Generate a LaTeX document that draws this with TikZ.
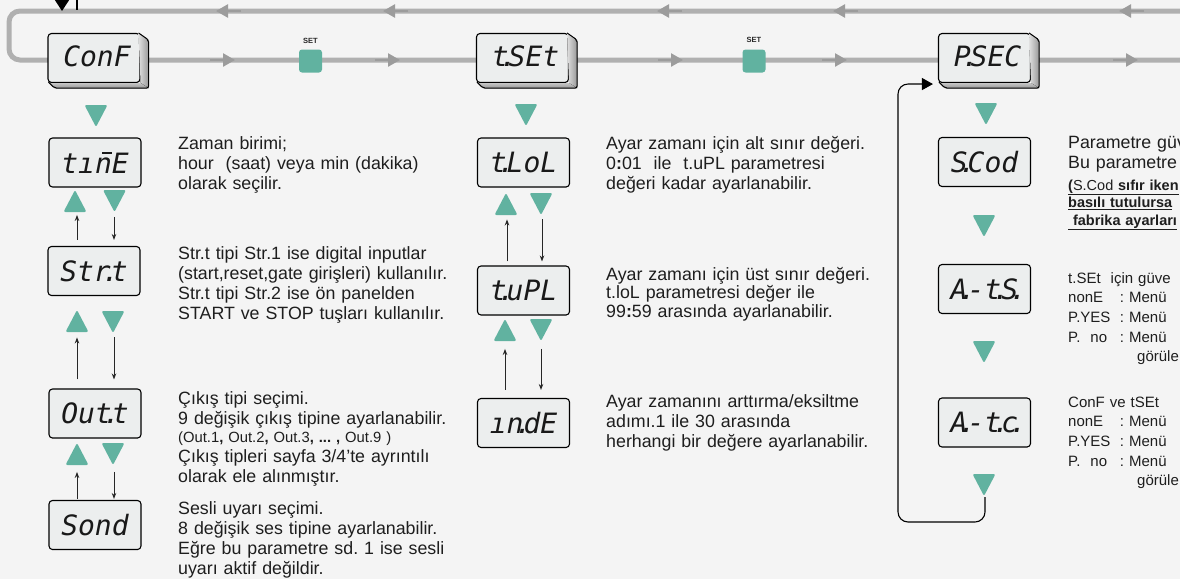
\documentclass[tikz,border=0pt]{standalone}
\usepackage{fontspec}
\setmainfont{Liberation Sans}
\newfontfamily\segfont{DejaVu Sans Mono}
\usetikzlibrary{arrows.meta}
\frenchspacing
\definecolor{bgc}{RGB}{244,244,244}
\definecolor{tealc}{RGB}{97,178,160}
\definecolor{flowc}{RGB}{176,176,176}
\definecolor{flowtipc}{RGB}{156,156,156}
\definecolor{facec}{RGB}{236,238,238}
\definecolor{txtc}{RGB}{30,30,30}
\newcommand\sdot{\kern-0.3em.\kern-0.3em}
\newcommand\barn{\makebox[0pt][l]{\kern7pt\rule[19.5pt]{10pt}{2.2pt}}n}
\newcommand\threed[1]{%
  \fill[left color=gray!25,right color=gray!80] ([xshift=-2pt]#1.north east) -- ++(10,7) -- ([shift={(8,5)}]#1.south east) -- (#1.south east) -- cycle;
  \fill[top color=gray!45,bottom color=gray!80] (#1.south east) -- ([shift={(8,5)}]#1.south east) -- ([shift={(7,5)}]#1.south west) -- ([xshift=2pt]#1.south west) -- cycle;
  \draw[line width=1pt, rounded corners=2pt] ([xshift=-2pt]#1.north east) -- ++(10,7) -- ([shift={(8,5)}]#1.south east) -- ([shift={(7,5)}]#1.south west) -- ([xshift=1pt,yshift=1pt]#1.south west);
}
\tikzset{
  disp/.style={draw=black, line width=1.1pt, fill=facec, rounded corners=3.5pt,
    minimum width=92pt, minimum height=49pt, inner sep=0pt, text=black!90,
    font=\segfont\itshape\fontsize{28}{28}\selectfont},
  flowline/.style={draw=flowc, line width=5pt, rounded corners=11pt},
  flowarr/.style={draw=flowtipc, line width=2.5pt, -{Triangle[length=12pt,width=13pt]}},
  setbtn/.style={fill=tealc, rounded corners=3pt, minimum width=23pt, minimum height=23pt, inner sep=0pt},
  setlbl/.style={font=\bfseries\fontsize{7.5}{8}\selectfont, inner sep=0pt, text=black!85},
  sarrow/.style={draw=black!85, line width=0.9pt, -{Stealth[length=6pt,width=4.5pt]}},
  loopline/.style={draw=black, line width=1.1pt, rounded corners=10pt, -{Triangle[length=11pt,width=12pt]}},
  txt/.style={anchor=base west, inner sep=0pt, align=left, text width=420pt, text=txtc,
    font=\fontsize{17.8}{20}\selectfont},
  tdown/.pic={\fill[tealc, rounded corners=2pt] (-11.5,0) -- (11.5,0) -- (0,22) -- cycle;},
  tup/.pic={\fill[tealc, rounded corners=2pt] (-11.5,22) -- (11.5,22) -- (0,0) -- cycle;}
}
\begin{document}
\begin{tikzpicture}[x=1pt,y=-1pt]
\useasboundingbox (0,0) rectangle (1180,579);
\clip (0,0) rectangle (1180,579);
\fill[bgc] (0,0) rectangle (1180,579);

% main gray loop
\coordinate (loopTR) at (1190,11);
\coordinate (loopBR) at (1190,60);
\draw[flowline] (loopTR) -- (9,11) -- (9,60) -- (loopBR);
\foreach \x in {216,383,657,833,1119} \draw[flowarr] (\x+25,11) -- (\x,11);
\foreach \x in {235,400,683,847,1138} \draw[flowarr] (\x-25,60) -- (\x,60);

% entry marker top-left
\coordinate (entryA) at (62,-20);
\coordinate (entryB) at (62,11);
\draw[line width=1.2pt, -{Triangle[length=11pt,width=14pt]}] (entryA) -- (entryB);
\coordinate (entryC) at (77,-5);
\coordinate (entryD) at (77,10);
\draw[line width=1.2pt] (entryC) -- (entryD);

% SET buttons
\node[setbtn] (set1) at (310.5,61) {};
\node[setlbl] (setl1) at ([yshift=8pt]set1.north) {SET};
\node[setbtn] (set2) at (754,61) {};
\node[setlbl] (setl2) at ([yshift=9pt]set2.north) {SET};

% top displays
\node[disp] (conf) at (94,58) {\raisebox{3pt}{\kern6pt ConF}};
\threed{conf}
\node[disp] (tset) at (522.5,58) {\raisebox{3pt}{\kern6pt t\sdot SEt}};
\threed{tset}
\node[disp] (psec) at (984.5,58) {\raisebox{3pt}{\kern6pt P\sdot SEC}};
\threed{psec}

% column 1
\node[disp] (time) at (95,162.5) {tı\barn E};
\node[disp] (strt) at (94,271) {Str\sdot t};
\node[disp] (outt) at (95,413.5) {Out\sdot t};
\node[disp] (sond) at (95,525) {Sond};

\pic at (96,105) {tdown};
\pic at (75,190) {tup};
\pic at (114.5,190) {tdown};
\pic at (77,310) {tup};
\pic at (113,311) {tdown};
\pic at (77,443) {tup};
\pic at (113,443) {tdown};

\draw[sarrow] ([xshift=-17pt,yshift=6pt]strt.north) -- ++(0,-25);
\draw[sarrow] ([xshift=20pt,yshift=29pt]strt.north) -- ++(0,23);
\draw[sarrow] ([xshift=-18pt,yshift=9pt]outt.north) -- ++(0,-42);
\draw[sarrow] ([xshift=19pt,yshift=51pt]outt.north) -- ++(0,42);
\draw[sarrow] ([xshift=-18pt,yshift=1pt]sond.north) -- ++(0,-27);
\draw[sarrow] ([xshift=19pt,yshift=28pt]sond.north) -- ++(0,27);

% column 2
\node[disp] (tlol) at (523.5,162.5) {t\sdot LoL};
\node[disp] (tupl) at (523.5,290.5) {t\sdot uPL};
\node[disp] (inde) at (523.5,423) {ın\sdot dE};

\pic at (526,104) {tdown};
\pic at (506,193) {tup};
\pic at (541,193) {tdown};
\pic at (505,319) {tup};
\pic at (541,319) {tdown};

\draw[sarrow] ([xshift=-16.5pt,yshift=4pt]tupl.north) -- ++(0,-42);
\draw[sarrow] ([xshift=18.5pt,yshift=46pt]tupl.north) -- ++(0,42);
\draw[sarrow] ([xshift=-18.5pt,yshift=8pt]inde.north) -- ++(0,-41);
\draw[sarrow] ([xshift=17.5pt,yshift=49pt]inde.north) -- ++(0,41);

% column 3
\node[disp] (scod) at (984.5,162) {S\sdot Cod};
\node[disp] (ats) at (984.5,289) {A\sdot -t\sdot S\sdot};
\node[disp] (atc) at (984.5,422.5) {A\sdot -t\sdot c\sdot};

\pic at (986,103) {tdown};
\pic at (984,215) {tdown};
\pic at (984,341) {tdown};
\pic at (984,474) {tdown};

\coordinate (lpstart) at (985,497);
\draw[loopline] (lpstart) -- (985,522) -- (898,522) -- (898,84) -- ([xshift=-5pt,yshift=-1pt]psec.south west);

% texts column 1
\node[txt] (d1) at (178,149) {Zaman birimi;\\hour\ \ (saat) veya min (dakika)\\olarak seçilir.};
\node[txt] (d2) at (178,259) {Str.t tipi Str.1 ise digital inputlar\\(start,reset,gate girişleri) kullanılır.\\Str.t tipi Str.2 ise ön panelden\\START ve STOP tuşları kullanılır.};
\node[txt] (d3a) at (178,404) {Çıkış tipi seçimi.\\9 değişik çıkış tipine ayarlanabilir.};
\node[txt, font=\fontsize{14.8}{18}\selectfont] (d3b) at (178,442) {(Out.1\textbf{,} Out.2\textbf{,} Out.3\textbf{,} \textbf{...} \textbf{,} Out.9 )};
\node[txt] (d3c) at (178,462) {Çıkış tipleri sayfa 3/4’te ayrıntılı\\olarak ele alınmıştır.};
\node[txt] (d4) at (178,514) {Sesli uyarı seçimi.\\8 değişik ses tipine ayarlanabilir.\\Eğre bu parametre sd. 1 ise sesli\\uyarı aktif değildir.};

% texts column 2
\node[txt] (e1) at (606,149) {Ayar zamanı için alt sınır değeri.\\0\textbf{:}01\ \ ile\ \ t.uPL parametresi\\değeri kadar ayarlanabilir.};
\node[txt, font=\fontsize{17.8}{18.7}\selectfont] (e2) at (606,280) {Ayar zamanı için üst sınır değeri.\\t.loL parametresi değer ile\\99\textbf{:}59 arasında ayarlanabilir.};
\node[txt] (e3) at (606,407) {Ayar zamanını arttırma/eksiltme\\adımı.1 ile 30 arasında\\herhangi bir değere ayarlanabilir.};

% texts column 3
\node[txt] (f1) at (1068,148) {Parametre güv\\Bu parametre};
\node[txt, font=\bfseries\fontsize{14.5}{17.5}\selectfont] (f2) at (1068,190) {\underline{(\textmd{S.Cod} sıfır iken}\\\underline{basılı tutulursa}\\\underline{\ fabrika ayarları}};
\node[txt, font=\fontsize{15}{19.7}\selectfont] (f3) at (1068,283) {t.SEt\ \ için güve\\\makebox[3.45em][l]{nonE}: Menü\\\makebox[3.45em][l]{P.YES}: Menü\\\makebox[3.45em][l]{P.\ \ no}: Menü\\\hspace*{69pt}görüle};
\node[txt, font=\fontsize{15}{19.7}\selectfont] (f4) at (1068,407) {ConF ve tSEt\\\makebox[3.45em][l]{nonE}: Menü\\\makebox[3.45em][l]{P.YES}: Menü\\\makebox[3.45em][l]{P.\ \ no}: Menü\\\hspace*{69pt}görüle};
\end{tikzpicture}
\end{document}
